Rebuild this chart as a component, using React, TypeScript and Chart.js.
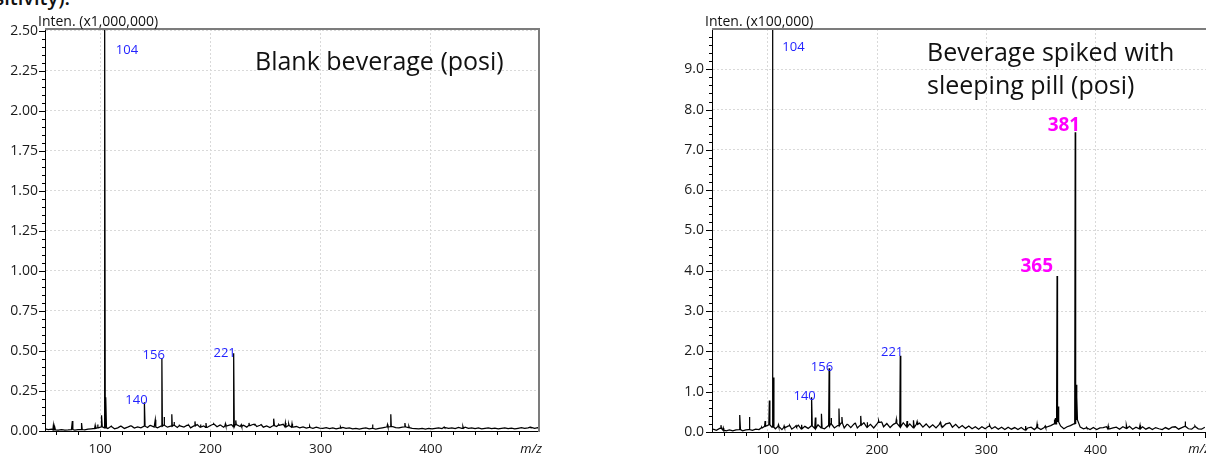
import React, { useEffect, useRef } from "react";
import { Chart, registerables } from "chart.js";
Chart.register(...registerables);

const FONT = '"Open Sans", sans-serif';

// ---------- shared axis ticks ----------
const X_TICKS = [100, 200, 300, 400];
const LEFT_Y_TICKS = [0, 0.25, 0.5, 0.75, 1, 1.25, 1.5, 1.75, 2, 2.25, 2.5];
const RIGHT_Y_TICKS = [0, 1, 2, 3, 4, 5, 6, 7, 8, 9];

// ---------- noise baseline (m/z grid 50,53,56,...,500) ----------
const NOISE_START_MZ = 50;
const NOISE_STEP_MZ = 3;

// Left: Blank beverage, intensity x1,000,000
const leftNoise = [
  0.014, 0.009, 0.012, 0.007, 0.006, 0.008, 0.006, 0.007, 0.009, 0.006,
  0.008, 0.009, 0.007, 0.011, 0.014, 0.016, 0.02, 0.026, 0.02, 0.016,
  0.028, 0.014, 0.02, 0.03, 0.016, 0.024, 0.032, 0.018, 0.026, 0.02,
  0.03, 0.022, 0.034, 0.024, 0.02, 0.03, 0.036, 0.024, 0.03, 0.036,
  0.022, 0.032, 0.024, 0.036, 0.02, 0.032, 0.04, 0.024, 0.032, 0.022,
  0.034, 0.042, 0.026, 0.036, 0.024, 0.032, 0.038, 0.026, 0.04, 0.028,
  0.036, 0.024, 0.034, 0.042, 0.028, 0.036, 0.024, 0.032, 0.022, 0.034,
  0.028, 0.036, 0.042, 0.026, 0.034, 0.024, 0.028, 0.02, 0.026, 0.018,
  0.022, 0.017, 0.024, 0.018, 0.016, 0.021, 0.015, 0.02, 0.013, 0.018,
  0.022, 0.016, 0.02, 0.013, 0.017, 0.012, 0.016, 0.019, 0.013, 0.017,
  0.012, 0.016, 0.02, 0.024, 0.026, 0.028, 0.021, 0.019, 0.024, 0.026,
  0.021, 0.017, 0.015, 0.013, 0.017, 0.012, 0.016, 0.013, 0.017, 0.02,
  0.015, 0.021, 0.016, 0.02, 0.015, 0.022, 0.017, 0.024, 0.016, 0.02,
  0.015, 0.019, 0.013, 0.017, 0.02, 0.015, 0.018, 0.013, 0.017, 0.02,
  0.015, 0.018, 0.013, 0.017, 0.021, 0.016, 0.019, 0.022, 0.016, 0.021,
  0.018,
];
const leftPeakMz = [
  57.6, 59, 74.8, 83.3, 95.5, 97.9, 101.5, 104.2, 105.3, 110, 119, 128,
  140.3, 145.5, 150, 156, 158, 165, 167, 172, 180, 186, 191, 196, 203, 209,
  213.6, 219, 221.2, 223, 228, 235, 240, 246, 257.6, 262, 268, 271, 274,
  290, 318, 347, 360.6, 363.6, 365, 376.4, 380, 412, 429, 490,
];
const leftPeakInt = [
  0.035, 0.02, 0.062, 0.05, 0.035, 0.04, 0.098, 2.62, 0.21, 0.035, 0.03, 0.035,
  0.18, 0.035, 0.07, 0.455, 0.088, 0.104, 0.056, 0.035, 0.035, 0.06, 0.04, 0.05, 0.045, 0.04,
  0.045, 0.04, 0.485, 0.066, 0.04, 0.05, 0.04, 0.04, 0.077, 0.04, 0.05, 0.045, 0.045,
  0.03, 0.025, 0.04, 0.04, 0.104, 0.03, 0.05, 0.03, 0.025, 0.028, 0.025,
];
const leftLabelMz = [104.2, 140.3, 156, 221.2];
const leftLabelText = ["104", "140", "156", "221"];

// Right: Beverage spiked with sleeping pill, intensity x100,000
const rightNoise = [
  0.07, 0.04, 0.09, 0.05, 0.03, 0.05, 0.03, 0.05, 0.06, 0.03,
  0.05, 0.06, 0.04, 0.07, 0.06, 0.1, 0.14, 0.18, 0.12, 0.08,
  0.14, 0.06, 0.11, 0.15, 0.07, 0.13, 0.17, 0.08, 0.14, 0.09,
  0.15, 0.09, 0.18, 0.1, 0.08, 0.15, 0.2, 0.1, 0.16, 0.22,
  0.1, 0.19, 0.11, 0.2, 0.1, 0.17, 0.23, 0.12, 0.19, 0.1,
  0.2, 0.24, 0.13, 0.21, 0.11, 0.19, 0.22, 0.13, 0.23, 0.13,
  0.2, 0.11, 0.19, 0.22, 0.12, 0.2, 0.11, 0.18, 0.1, 0.19,
  0.12, 0.2, 0.22, 0.12, 0.19, 0.1, 0.16, 0.09, 0.15, 0.08,
  0.13, 0.07, 0.13, 0.08, 0.14, 0.08, 0.13, 0.07, 0.12, 0.06,
  0.12, 0.07, 0.11, 0.06, 0.11, 0.05, 0.1, 0.12, 0.06, 0.11,
  0.06, 0.11, 0.13, 0.16, 0.2, 0.25, 0.15, 0.08, 0.13, 0.16,
  0.2, 0.3, 0.12, 0.08, 0.1, 0.06, 0.11, 0.06, 0.1, 0.11,
  0.13, 0.08, 0.1, 0.12, 0.07, 0.13, 0.09, 0.14, 0.07, 0.12,
  0.08, 0.13, 0.07, 0.11, 0.06, 0.11, 0.08, 0.06, 0.11, 0.07,
  0.12, 0.13, 0.07, 0.11, 0.14, 0.08, 0.07, 0.13, 0.08, 0.07,
  0.12,
];
const rightPeakMz = [
  57.2, 59.3, 74.6, 83.2, 94.5, 97.6, 101.5, 104.2, 105.2, 109.8, 115, 120,
  126, 131, 140.3, 143.6, 149.3, 156.2, 158, 165.2, 167.9, 173, 180, 185.2,
  191, 201.5, 204, 217.7, 221.3, 227.5, 233.6, 236.7, 258, 266.4, 303, 336,
  346.5, 354, 362.7, 363.4, 364.8, 365.8, 381.4, 382.2, 383, 391.7, 411.6,
  428.4, 440.7, 482, 491,
];
const rightPeakInt = [
  0.17, 0.1, 0.42, 0.37, 0.12, 0.27, 0.78, 12, 1.35, 0.18, 0.15, 0.17,
  0.16, 0.18, 0.86, 0.36, 0.45, 1.58, 0.35, 0.58, 0.37, 0.2, 0.22, 0.4,
  0.24, 0.28, 0.25, 0.31, 1.89, 0.27, 0.29, 0.26, 0.24, 0.23, 0.17, 0.15,
  0.2, 0.15, 0.31, 0.35, 3.87, 0.63, 7.44, 1.17, 0.87, 0.12, 0.15,
  0.17, 0.17, 0.26, 0.15,
];
const rightLabelMz = [104.2, 140.3, 156.2, 221.3, 364.8, 381.4];
const rightLabelText = ["104", "140", "156", "221", "365", "381"];

// ---------- label styles (not data) ----------
const BLUE = "#2323ff";
const MAGENTA = "#ff00ff";
const smallLbl = `13px ${FONT}`;
const boldLbl = `bold 19px ${FONT}`;
const leftLabelStyle = [
  { align: "left", dx: 11, top: 21, color: BLUE, font: smallLbl },
  { align: "right", dx: 3, dy: -2, color: BLUE, font: smallLbl },
  { align: "right", dx: 3, dy: -3, color: BLUE, font: smallLbl },
  { align: "right", dx: 2, dy: 0, color: BLUE, font: smallLbl },
];
const rightLabelStyle = [
  { align: "left", dx: 10, top: 18, color: BLUE, font: smallLbl },
  { align: "right", dx: 4, dy: -1, color: BLUE, font: smallLbl },
  { align: "right", dx: 4, dy: -1, color: BLUE, font: smallLbl },
  { align: "right", dx: 3, dy: -4, color: BLUE, font: smallLbl },
  { align: "right", dx: -4, dy: -9, color: MAGENTA, font: boldLbl },
  { align: "right", dx: 5, dy: -7, color: MAGENTA, font: boldLbl },
];

function buildProfile(noise: number[], peakMz: number[], peakInt: number[]) {
  const pts = noise.map((v, i) => ({ x: NOISE_START_MZ + NOISE_STEP_MZ * i, y: v }));
  peakMz.forEach((m, k) => {
    const idx = Math.max(0, Math.min(noise.length - 1, Math.round((m - NOISE_START_MZ) / NOISE_STEP_MZ)));
    const base = noise[idx];
    pts.push({ x: m - 0.45, y: base }, { x: m, y: peakInt[k] }, { x: m + 0.45, y: base });
  });
  pts.sort((a, b) => a.x - b.x);
  return pts;
}

const decorPlugin = {
  id: "decor",
  afterDraw(chart: any, _args: any, o: any) {
    const { ctx, chartArea: a } = chart;
    const xs = chart.scales.x;
    const ys = chart.scales.y;
    ctx.save();
    // tick marks (major + minor)
    ctx.strokeStyle = "#000";
    ctx.lineWidth = 1;
    ctx.beginPath();
    for (let k = 0; ; k++) {
      const v = k * o.yMinorStep;
      if (v > ys.max + 1e-9) break;
      const py = Math.round(ys.getPixelForValue(v)) + 0.5;
      const r = v / o.yMajorStep;
      const major = Math.abs(r - Math.round(r)) < 1e-6;
      ctx.moveTo(a.left - (major ? 6 : 3), py);
      ctx.lineTo(a.left, py);
    }
    for (let v = Math.ceil(xs.min / 20) * 20; v <= xs.max; v += 20) {
      const px = Math.round(xs.getPixelForValue(v)) + 0.5;
      const major = v % 100 === 0;
      ctx.moveTo(px, a.bottom);
      ctx.lineTo(px, a.bottom + (major ? 6 : 4));
    }
    ctx.stroke();
    // frame top/right
    ctx.strokeStyle = "#7c7c7c";
    ctx.lineWidth = 2;
    ctx.beginPath();
    ctx.moveTo(a.left, a.top);
    ctx.lineTo(a.right, a.top);
    ctx.lineTo(a.right, a.bottom + 1);
    ctx.stroke();
    // intensity unit
    ctx.fillStyle = "#111";
    ctx.textBaseline = "alphabetic";
    ctx.textAlign = "left";
    ctx.font = `14px ${FONT}`;
    ctx.fillText(o.unitText, o.unitX, 25.5);
    // m/z
    ctx.font = `italic 13px ${FONT}`;
    ctx.textAlign = "right";
    ctx.fillText("m/z", a.right + 3, 453);
    // title lines
    ctx.font = `25px ${FONT}`;
    ctx.textAlign = "left";
    o.title.forEach((t: string, i: number) => {
      ctx.fillText(t, o.titleX, o.titleY + i * 33);
    });
    // peak labels
    ctx.textBaseline = "middle";
    o.labelMz.forEach((m: number, i: number) => {
      const st = o.labelStyle[i];
      const k = o.peakMz.indexOf(m);
      const inten = o.peakInt[k];
      const px = xs.getPixelForValue(m);
      const py = st.top !== undefined ? a.top + st.top : ys.getPixelForValue(inten) + st.dy;
      ctx.font = st.font;
      ctx.fillStyle = st.color;
      ctx.textAlign = st.align;
      ctx.fillText(o.labelText[i], px + st.dx, py);
    });
    ctx.restore();
  },
};

type PanelProps = {
  width: number;
  left: number;
  yAxisWidth: number;
  xAxisHeight: number;
  padRight: number;
  xMin: number;
  xMax: number;
  yMax: number;
  yTicks: number[];
  yDigits: number;
  yPad: number;
  yMinorStep: number;
  yMajorStep: number;
  noise: number[];
  peakMz: number[];
  peakInt: number[];
  labelMz: number[];
  labelText: string[];
  labelStyle: any[];
  unitText: string;
  unitX: number;
  title: string[];
  titleX: number;
  titleY: number;
};

const GRID = "#d9d9d9";

function Panel(p: PanelProps) {
  const ref = useRef<HTMLCanvasElement | null>(null);
  useEffect(() => {
    if (!ref.current) return;
    const chart = new Chart(ref.current, {
      type: "line",
      data: {
        datasets: [
          {
            data: buildProfile(p.noise, p.peakMz, p.peakInt),
            borderColor: "#000",
            borderWidth: 1.25,
            pointRadius: 0,
            tension: 0,
            fill: false,
          },
        ],
      },
      options: {
        animation: false,
        responsive: false,
        maintainAspectRatio: false,
        layout: { padding: { top: 29, right: p.padRight, left: 0, bottom: 0 } },
        plugins: {
          legend: { display: false },
          tooltip: { enabled: false },
          decor: {
            yMinorStep: p.yMinorStep,
            yMajorStep: p.yMajorStep,
            unitText: p.unitText,
            unitX: p.unitX,
            title: p.title,
            titleX: p.titleX,
            titleY: p.titleY,
            labelMz: p.labelMz,
            labelText: p.labelText,
            labelStyle: p.labelStyle,
            peakMz: p.peakMz,
            peakInt: p.peakInt,
          },
        } as any,
        scales: {
          x: {
            type: "linear",
            min: p.xMin,
            max: p.xMax,
            afterBuildTicks: (s: any) => {
              s.ticks = X_TICKS.map((v) => ({ value: v }));
            },
            afterFit: (s: any) => {
              s.height = p.xAxisHeight;
            },
            grid: {
              color: GRID,
              lineWidth: 1,
              drawTicks: true,
              tickLength: 6,
              tickColor: "rgba(0,0,0,0)",
            },
            border: { display: true, color: "#000", width: 1, dash: [2, 2] },
            ticks: {
              font: { family: FONT, size: 13.5 },
              color: "#1a1a1a",
              padding: 4,
              maxRotation: 0,
              autoSkip: false,
              callback: (v: any) => String(v),
            },
          },
          y: {
            type: "linear",
            min: 0,
            max: p.yMax,
            afterBuildTicks: (s: any) => {
              s.ticks = p.yTicks.map((v) => ({ value: v }));
            },
            afterFit: (s: any) => {
              s.width = p.yAxisWidth;
            },
            grid: {
              color: (c: any) => (c.tick && c.tick.value === 0 ? "rgba(0,0,0,0)" : GRID),
              lineWidth: 1,
              drawTicks: true,
              tickLength: 6,
              tickColor: "rgba(0,0,0,0)",
            },
            border: { display: true, color: "#000", width: 1, dash: [2, 2] },
            ticks: {
              font: { family: FONT, size: 14 },
              color: "#1a1a1a",
              padding: p.yPad,
              autoSkip: false,
              callback: (v: any) => Number(v).toFixed(p.yDigits),
            },
          },
        },
      } as any,
      plugins: [decorPlugin as any],
    });
    return () => chart.destroy();
  }, []);
  return (
    <canvas
      ref={ref}
      width={p.width}
      height={455}
      style={{ position: "absolute", left: p.left, top: 0, width: p.width, height: 455 }}
    />
  );
}

export default function App() {
  return (
    <div
      style={{
        position: "absolute",
        left: 0,
        top: 0,
        width: 1206,
        height: 455,
        overflow: "hidden",
        background: "#fff",
      }}
    >
      <div
        style={{
          position: "absolute",
          right: 1136,
          top: -12,
          font: `600 20px ${FONT}`,
          lineHeight: "20px",
          whiteSpace: "nowrap",
          color: "#111",
        }}
      >
        (positivity).
      </div>
      <Panel
        width={580}
        left={0}
        yAxisWidth={45}
        xAxisHeight={24}
        padRight={41}
        xMin={50}
        xMax={498}
        yMax={2.51}
        yTicks={LEFT_Y_TICKS}
        yDigits={2}
        yPad={1}
        yMinorStep={0.05}
        yMajorStep={0.25}
        noise={leftNoise}
        peakMz={leftPeakMz}
        peakInt={leftPeakInt}
        labelMz={leftLabelMz}
        labelText={leftLabelText}
        labelStyle={leftLabelStyle}
        unitText="Inten. (x1,000,000)"
        unitX={38}
        title={["Blank beverage (posi)"]}
        titleX={255}
        titleY={70}
      />
      <Panel
        width={580}
        left={660}
        yAxisWidth={52}
        xAxisHeight={23}
        padRight={33}
        xMin={49}
        xMax={502}
        yMax={9.999}
        yTicks={RIGHT_Y_TICKS}
        yDigits={1}
        yPad={2}
        yMinorStep={0.2}
        yMajorStep={1}
        noise={rightNoise}
        peakMz={rightPeakMz}
        peakInt={rightPeakInt}
        labelMz={rightLabelMz}
        labelText={rightLabelText}
        labelStyle={rightLabelStyle}
        unitText="Inten. (x100,000)"
        unitX={45}
        title={["Beverage spiked with", "sleeping pill (posi)"]}
        titleX={267}
        titleY={61}
      />
    </div>
  );
}
